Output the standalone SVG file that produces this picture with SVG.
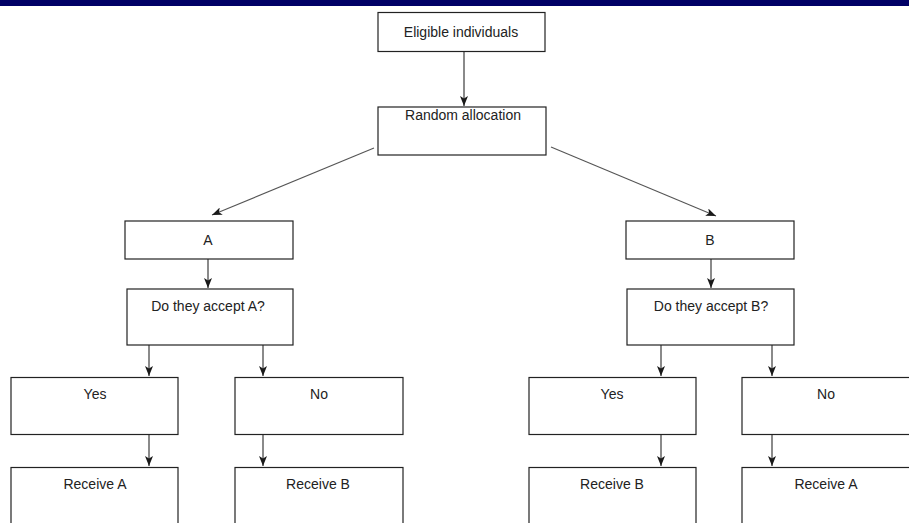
<svg xmlns="http://www.w3.org/2000/svg" width="909" height="523" viewBox="0 0 909 523">
  <style>
    .box { fill: #ffffff; stroke: #222222; stroke-width: 1.2; }
    .label { font-family: "Liberation Sans", Arial, sans-serif; font-size: 14px; fill: #222222; text-anchor: middle; }
    .link { fill: none; stroke: #2a2a2a; stroke-width: 1.1; marker-end: url(#head); }
    .diag { stroke: #555555; }
  </style>
  <defs>
    <marker id="head" viewBox="0 0 10 8" refX="10" refY="4" markerWidth="10" markerHeight="8" markerUnits="userSpaceOnUse" orient="auto">
      <path d="M0,0 L10,4 L0,8 L2.5,4 Z" fill="#1a1a1a"/>
    </marker>
  </defs>

  <rect width="909" height="523" fill="#ffffff"/>
  <!-- header band -->
  <rect x="0" y="0" width="909" height="6" fill="#000066"/>

  <g id="connectors">
    <line class="link" x1="464" y1="51" x2="464" y2="106"/>
    <line class="link diag" x1="374" y1="148" x2="212" y2="215"/>
    <line class="link diag" x1="551" y1="147" x2="716" y2="216"/>
    <line class="link" x1="208" y1="259" x2="208" y2="288"/>
    <line class="link" x1="711" y1="259" x2="711" y2="288"/>
    <line class="link" x1="149" y1="345" x2="149" y2="376"/>
    <line class="link" x1="263" y1="345" x2="263" y2="376"/>
    <line class="link" x1="661" y1="345" x2="661" y2="376"/>
    <line class="link" x1="772" y1="345" x2="772" y2="376"/>
    <line class="link" x1="149" y1="434" x2="149" y2="466"/>
    <line class="link" x1="263" y1="434" x2="263" y2="466"/>
    <line class="link" x1="661" y1="434" x2="661" y2="466"/>
    <line class="link" x1="772" y1="434" x2="772" y2="466"/>
  </g>

  <g id="eligible">
    <rect class="box" x="378" y="12.5" width="167" height="39"/>
    <text class="label" x="461" y="37">Eligible individuals</text>
  </g>
  <g id="random">
    <rect class="box" x="378" y="107" width="168" height="48"/>
    <text class="label" x="463" y="120">Random allocation</text>
  </g>

  <g id="arm-a">
    <rect class="box" x="125" y="221" width="168" height="38"/>
    <text class="label" x="208" y="245">A</text>
  </g>
  <g id="arm-b">
    <rect class="box" x="626" y="221" width="168" height="38"/>
    <text class="label" x="710" y="245">B</text>
  </g>

  <g id="accept-a">
    <rect class="box" x="127" y="289" width="166" height="56"/>
    <text class="label" x="208" y="311">Do they accept A?</text>
  </g>
  <g id="accept-b">
    <rect class="box" x="627" y="289" width="167" height="56"/>
    <text class="label" x="711" y="311">Do they accept B?</text>
  </g>

  <g id="yes-a">
    <rect class="box" x="11" y="377.5" width="167" height="57"/>
    <text class="label" x="95" y="399">Yes</text>
  </g>
  <g id="no-a">
    <rect class="box" x="235" y="377.5" width="168" height="57"/>
    <text class="label" x="319" y="399">No</text>
  </g>
  <g id="yes-b">
    <rect class="box" x="529" y="377.5" width="167" height="57"/>
    <text class="label" x="612" y="399">Yes</text>
  </g>
  <g id="no-b">
    <rect class="box" x="742" y="377.5" width="170" height="57"/>
    <text class="label" x="826" y="399">No</text>
  </g>

  <g id="receive-a-left">
    <rect class="box" x="11" y="467.5" width="167" height="70"/>
    <text class="label" x="95" y="489">Receive A</text>
  </g>
  <g id="receive-b-left">
    <rect class="box" x="235" y="467.5" width="168" height="70"/>
    <text class="label" x="318" y="489">Receive B</text>
  </g>
  <g id="receive-b-right">
    <rect class="box" x="529" y="467.5" width="167" height="70"/>
    <text class="label" x="612" y="489">Receive B</text>
  </g>
  <g id="receive-a-right">
    <rect class="box" x="742" y="467.5" width="170" height="70"/>
    <text class="label" x="826" y="489">Receive A</text>
  </g>
</svg>
